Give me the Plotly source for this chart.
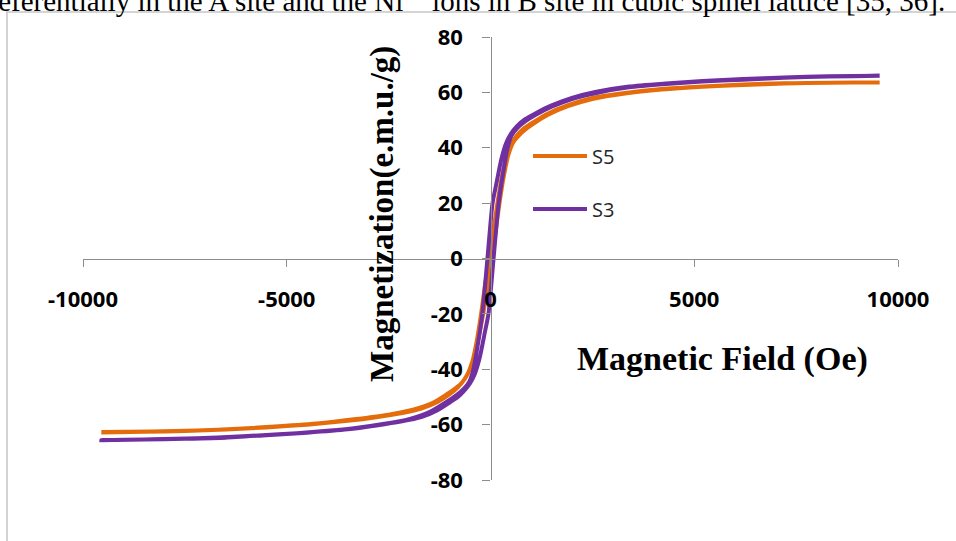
import plotly.graph_objects as go

# Hysteresis loops M(H) for two samples, each as an ascending and a descending branch
s5_name = "S5"
s5_field_up = [-9550, -8500, -7500, -6500, -5500, -4500, -3500, -2800, -2200, -1700, -1300, -1000, -800, -650,
               -540, -420, -300, -180, -80, 30, 120, 220, 330, 440, 560, 700, 850, 1050, 1400, 1900, 2500,
               3300, 4200, 5200, 6200, 7200, 8300, 9550]
s5_mag_up = [-62.8, -62.6, -62.3, -61.8, -61.0, -60.0, -58.6, -57.3, -55.9, -54.2, -51.8, -49.0, -46.5, -43.8,
             -41.0, -36.0, -29.0, -20.0, -11.0, 0.0, 9.0, 20.0, 30.0, 37.5, 42.0, 44.5, 46.5, 48.6, 51.8, 55.0,
             57.6, 59.6, 61.0, 62.0, 62.7, 63.2, 63.5, 63.6]
s5_field_down = [9550, 8300, 7200, 6200, 5200, 4200, 3300, 2500, 1900, 1400, 1050, 800, 650, 540, 420, 300, 180,
                 80, -30, -130, -230, -340, -450, -570, -710, -870, -1070, -1400, -1900, -2500, -3300, -4200,
                 -5200, -6200, -7200, -8300, -9550]
s5_mag_down = [63.6, 63.5, 63.3, 62.8, 62.1, 61.2, 59.8, 58.0, 55.4, 52.3, 49.2, 46.8, 44.5, 42.0, 38.0, 31.0,
               21.0, 11.0, 0.0, -9.0, -20.0, -30.0, -37.5, -42.0, -45.0, -47.0, -49.0, -52.0, -54.6, -56.4, -58.0,
               -59.5, -60.6, -61.5, -62.1, -62.5, -62.7]

s3_name = "S3"
s3_field_up = [-9550, -8500, -7500, -6500, -5500, -4500, -3500, -2800, -2200, -1700, -1300, -1000, -800, -650,
               -500, -380, -260, -150, -50, 75, 200, 310, 420, 520, 650, 850, 1100, 1500, 2000, 2600, 3400, 4300,
               5200, 6200, 7200, 8300, 9550]
s3_mag_up = [-65.6, -65.4, -65.1, -64.7, -63.8, -62.9, -61.7, -60.3, -58.9, -57.3, -54.8, -52.0, -50.0, -47.8,
             -45.0, -41.5, -35.5, -27.5, -20.0, 0.0, 20.0, 31.0, 40.0, 44.5, 47.0, 49.5, 51.8, 54.8, 57.6, 59.8,
             61.8, 63.0, 63.9, 64.6, 65.3, 65.7, 66.0]
s3_field_down = [9550, 8300, 7200, 6200, 5200, 4300, 3400, 2600, 2000, 1500, 1100, 850, 650, 500, 380, 260, 150,
                 50, -75, -200, -310, -420, -520, -650, -850, -1100, -1500, -2000, -2600, -3400, -4300, -5200,
                 -6200, -7200, -8300, -9550]
s3_mag_down = [66.0, 65.8, 65.4, 64.8, 64.1, 63.2, 62.1, 60.2, 58.0, 55.3, 52.4, 50.3, 47.8, 45.0, 41.5, 35.5,
               27.5, 20.0, 0.0, -20.0, -31.0, -40.0, -44.5, -47.0, -49.5, -52.0, -55.5, -58.0, -59.7, -61.4, -62.6,
               -63.5, -64.3, -64.9, -65.3, -65.6]

x_tick_values = [-10000, -5000, 0, 5000, 10000]
x_tick_labels = ["-10000", "-5000", "0", "5000", "10000"]
y_tick_values = [-80, -60, -40, -20, 0, 20, 40, 60, 80]
y_tick_labels = ["-80", "-60", "-40", "-20", "0", "20", "40", "60", "80"]

x_title = "Magnetic Field (Oe)"
y_title = "Magnetization(e.m.u./g)"
body_text = ("preferentially in the A site and the Ni<sup>2+</sup> ions in B site in cubic spinel lattice "
             "[35, 36].")

ORANGE = "#E46C0A"
PURPLE = "#7030A0"
AXIS_GREY = "#8C8C8C"

W, H = 956, 541
L, R, T, B = 83, 58, 37, 61


def px(xp):
    return (xp - L) / (W - L - R)


def py(yp):
    return (H - B - yp) / (H - T - B)


fig = go.Figure()
for name, fu, mu, fd, md, col in [
    (s5_name, s5_field_up, s5_mag_up, s5_field_down, s5_mag_down, ORANGE),
    (s3_name, s3_field_up, s3_mag_up, s3_field_down, s3_mag_down, PURPLE),
]:
    fig.add_trace(go.Scatter(
        x=fu + fd, y=mu + md, mode="lines", name=name,
        line=dict(color=col, width=4, shape="spline", smoothing=0.6),
        showlegend=False, hoverinfo="skip",
    ))

tick_font = dict(family="Open Sans", size=22, color="#000000", weight="bold")

fig.update_xaxes(
    range=[-10000, 10000], anchor="free", position=0.5,
    tickvals=x_tick_values, ticktext=x_tick_labels, tickfont=tick_font,
    ticks="outside", ticklen=7, tickwidth=1.3, tickcolor=AXIS_GREY,
    showline=True, linecolor=AXIS_GREY, linewidth=1.3,
    showgrid=False, zeroline=False, ticklabelstandoff=14,
)
fig.update_yaxes(
    range=[-80, 80], anchor="free", position=0.5,
    tickvals=y_tick_values, ticktext=y_tick_labels, tickfont=tick_font,
    ticks="outside", ticklen=8, tickwidth=1.3, tickcolor=AXIS_GREY,
    showline=True, linecolor=AXIS_GREY, linewidth=1.3,
    showgrid=False, zeroline=False, ticklabelstandoff=15,
)

annotations = [
    dict(text=f"<b>{x_title}</b>", x=px(722), y=py(359), xref="paper", yref="paper",
         xanchor="center", yanchor="middle", showarrow=False,
         font=dict(family="Liberation Serif", size=34, color="#000000")),
    dict(text=f"<b>{y_title}</b>", x=px(382), y=py(214), xref="paper", yref="paper",
         xanchor="center", yanchor="middle", showarrow=False, textangle=-90,
         font=dict(family="Liberation Serif", size=33, color="#000000")),
    dict(text=body_text, x=px(947), y=py(19), xref="paper", yref="paper",
         xanchor="right", yanchor="bottom", showarrow=False,
         font=dict(family="Liberation Serif", size=29, color="#000000")),
]

shapes = [
    # chart frame
    dict(type="line", xref="paper", yref="paper", x0=px(7), x1=px(7), y0=py(12), y1=py(560),
         line=dict(color="#C6C6C6", width=1.5)),
    dict(type="line", xref="paper", yref="paper", x0=px(6), x1=px(970), y0=py(12), y1=py(12),
         line=dict(color="#C6C6C6", width=1.5)),
]

# legend drawn as key lines with labels
for name, col, ly in [(s5_name, ORANGE, 156), (s3_name, PURPLE, 209)]:
    shapes.append(dict(type="line", xref="paper", yref="paper", x0=px(533), x1=px(587), y0=py(ly), y1=py(ly),
                       line=dict(color=col, width=4)))
    annotations.append(dict(text=name, x=px(590), y=py(ly), xref="paper", yref="paper",
                            xanchor="left", yanchor="middle", showarrow=False,
                            font=dict(family="Open Sans", size=20, color="#262626")))

fig.update_layout(
    width=W, height=H, margin=dict(l=L, r=R, t=T, b=B),
    paper_bgcolor="white", plot_bgcolor="white",
    annotations=annotations, shapes=shapes, showlegend=False,
)

fig.write_html("out.html")
